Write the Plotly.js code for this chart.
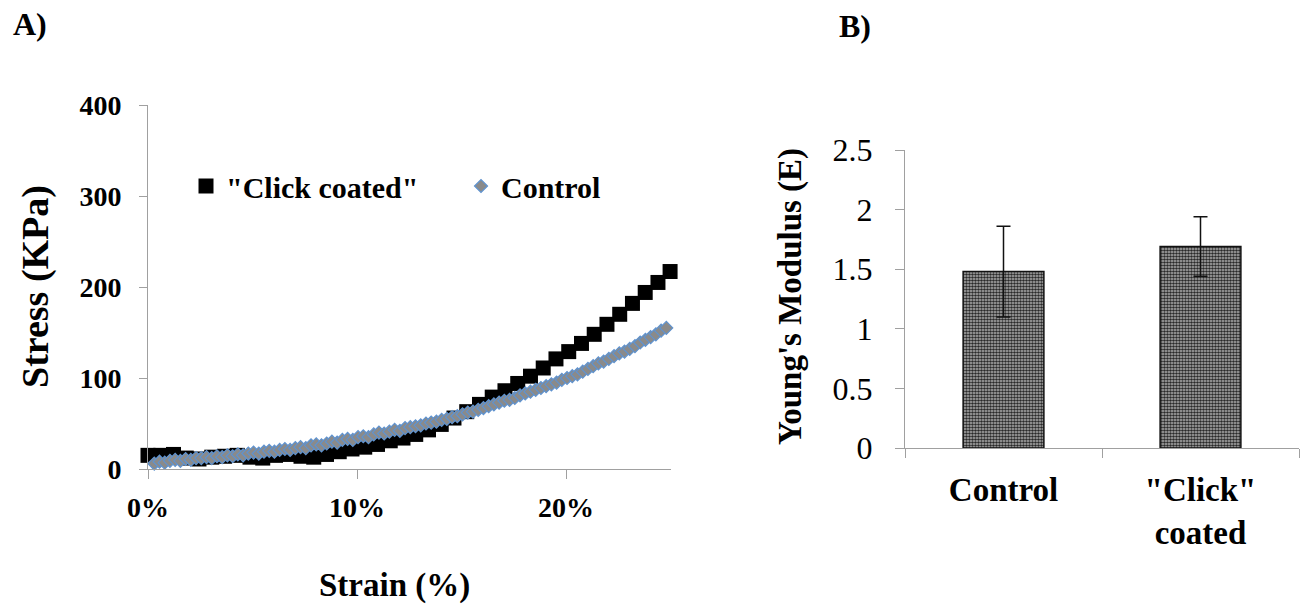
<!DOCTYPE html>
<html>
<head>
<meta charset="utf-8">
<script src="https://cdn.plot.ly/plotly-3.0.1.min.js"></script>
<style>html,body{margin:0;padding:0;background:#fff;}#chart{width:1308px;height:608px;}</style>
</head>
<body>
<div id="chart"></div>
<script>
// Panel A: stress-strain curves (strain in %, stress in KPa)
var clickStrain = [0.00,0.61,1.22,1.83,2.44,3.05,3.66,4.27,4.88,5.49,6.10,6.71,7.32,7.93,8.54,9.15,9.76,10.37,10.98,11.59,12.20,12.81,13.42,14.03,14.64,15.25,15.86,16.47,17.08,17.69,18.30,18.91,19.52,20.13,20.74,21.35,21.96,22.57,23.18,23.79,24.40,24.98];
var clickStress = [15,15,16,12,11,13,14,15,13,12,15,16,14,13,16,19,22,24,27,31,34,38,43,49,56,63,71,79,86,94,102,111,121,129,138,148,159,170,182,194,205,217];

var controlStrain = [0.30,0.55,0.80,1.05,1.30,1.55,1.80,2.05,2.30,2.55,2.80,3.05,3.30,3.55,3.80,4.05,4.30,4.55,4.80,5.05,5.30,5.55,5.80,6.05,6.30,6.55,6.80,7.05,7.30,7.55,7.80,8.05,8.30,8.55,8.80,9.05,9.30,9.55,9.80,10.05,10.30,10.55,10.80,11.05,11.30,11.55,11.80,12.05,12.30,12.55,12.80,13.05,13.30,13.55,13.80,14.05,14.30,14.55,14.80,15.05,15.30,15.55,15.80,16.05,16.30,16.55,16.80,17.05,17.30,17.55,17.80,18.05,18.30,18.55,18.80,19.05,19.30,19.55,19.80,20.05,20.30,20.55,20.80,21.05,21.30,21.55,21.80,22.05,22.30,22.55,22.80,23.05,23.30,23.55,23.80,24.05,24.30,24.55,24.80];
var controlStress = [6,8,7,9,10,9,11,10,12,12,13,12,14,13,15,14,16,15,17,18,17,19,20,19,21,22,21,23,24,23,26,27,26,28,30,29,32,33,32,35,36,35,38,40,39,41,43,42,45,46,47,48,50,51,52,54,55,57,58,60,62,63,65,67,69,71,73,75,76,78,81,83,85,87,89,91,93,95,98,100,102,104,107,110,113,116,118,121,124,127,129,132,135,139,142,145,148,152,155];

var strainTicks = [0,10,20];
var strainTickText = ['0%','10%','20%'];
var stressTicks = [0,100,200,300,400];

// Panel B: Young's modulus
var groups = ['Control', '"Click"<br>coated'];
var modulus = [1.48, 1.69];
var modulusErr = [0.38, 0.25];
var modulusTicks = [0,0.5,1,1.5,2,2.5];
var modulusTickText = ['0','0.5','1','1.5','2','2.5'];

var W = 1308, H = 608;
function px(x){return x/W;}
function py(y){return 1 - y/H;}

var SERIF = 'Liberation Serif, Times New Roman, serif';
var AX = '#a0a0a0';

var traces = [
  {
    type:'scatter', mode:'markers', name:'"Click coated"',
    x: clickStrain, y: clickStress, xaxis:'x', yaxis:'y',
    marker:{symbol:'square', size:15, color:'#000000', line:{width:0}},
    cliponaxis:false
  },
  {
    type:'scatter', mode:'markers', name:'Control',
    x: controlStrain, y: controlStress, xaxis:'x', yaxis:'y',
    marker:{symbol:'diamond', size:10, color:'#8a8a8a', line:{width:1.2, color:'#5f93d0'}},
    cliponaxis:false
  },
  {
    type:'bar', name:'Young\'s Modulus', showlegend:false,
    x: groups, y: modulus, xaxis:'x2', yaxis:'y2',
    width:0.41,
    marker:{color:'#8a8a8a', line:{color:'#111111', width:1.5},
      pattern:{shape:'.', size:3, solidity:0.6, fgcolor:'#2a2a2a', bgcolor:'#b8b8b8'}},
    error_y:{type:'data', array: modulusErr, visible:true, color:'#111111', thickness:1.5, width:7}
  }
];

var layout = {
  width: W, height: H,
  margin:{l:0, r:0, t:0, b:0},
  paper_bgcolor:'#ffffff', plot_bgcolor:'#ffffff',
  font:{family:SERIF, color:'#000000'},
  showlegend:true,
  legend:{orientation:'h', x:px(186), xanchor:'left', y:py(186), yanchor:'middle',
    entrywidthmode:'pixels', entrywidth:230, itemgap:5,
    font:{family:SERIF, size:30, weight:'bold', color:'#000'}, bgcolor:'rgba(0,0,0,0)'},
  xaxis:{domain:[px(148), px(670.5)], range:[0,25], anchor:'y',
    tickvals:strainTicks, ticktext:strainTickText, ticks:'outside', ticklen:9, tickcolor:AX, tickwidth:1,
    showline:true, linecolor:AX, linewidth:1, showgrid:false, zeroline:false,
    tickfont:{family:SERIF, size:28, weight:'bold'}, ticklabelstandoff:4, fixedrange:true},
  yaxis:{domain:[py(469), py(105)], range:[0,400], anchor:'x',
    tickvals:stressTicks, ticks:'outside', ticklen:8, tickcolor:AX, tickwidth:1,
    showline:true, linecolor:AX, linewidth:1, showgrid:false, zeroline:false,
    tickfont:{family:SERIF, size:28, weight:'bold'}, ticklabelstandoff:12, fixedrange:true},
  xaxis2:{domain:[px(905), px(1299)], range:[-0.5,1.5], anchor:'y2', type:'category',
    tickson:'boundaries', ticks:'outside', ticklen:9, tickcolor:AX, tickwidth:1,
    showline:true, linecolor:AX, linewidth:1, showgrid:false, zeroline:false,
    tickfont:{family:SERIF, size:33, weight:'bold'}, ticklabelstandoff:12, fixedrange:true},
  yaxis2:{domain:[py(448), py(150)], range:[0,2.5], anchor:'x2',
    tickvals:modulusTicks, ticktext:modulusTickText, ticks:'outside', ticklen:9, tickcolor:AX, tickwidth:1,
    showline:true, linecolor:AX, linewidth:1, showgrid:false, zeroline:false,
    tickfont:{family:SERIF, size:32}, ticklabelstandoff:16, fixedrange:true},
  annotations:[
    {text:'<b>A)</b>', xref:'paper', yref:'paper', x:px(30), y:py(24), xanchor:'center', yanchor:'middle', showarrow:false, font:{family:SERIF, size:32}},
    {text:'<b>B)</b>', xref:'paper', yref:'paper', x:px(855), y:py(26), xanchor:'center', yanchor:'middle', showarrow:false, font:{family:SERIF, size:32}},
    {text:'<b>Stress (KPa)</b>', xref:'paper', yref:'paper', x:px(35), y:py(287), xanchor:'center', yanchor:'middle', textangle:-90, showarrow:false, font:{family:SERIF, size:38}},
    {text:'<b>Strain (%)</b>', xref:'paper', yref:'paper', x:px(394), y:py(585), xanchor:'center', yanchor:'middle', showarrow:false, font:{family:SERIF, size:33}},
    {text:'<b>Young\'s Modulus (E)</b>', xref:'paper', yref:'paper', x:px(790), y:py(297), xanchor:'center', yanchor:'middle', textangle:-90, showarrow:false, font:{family:SERIF, size:33}}
  ]
};

Plotly.newPlot('chart', traces, layout, {displayModeBar:false, staticPlot:true});
</script>
</body>
</html>
